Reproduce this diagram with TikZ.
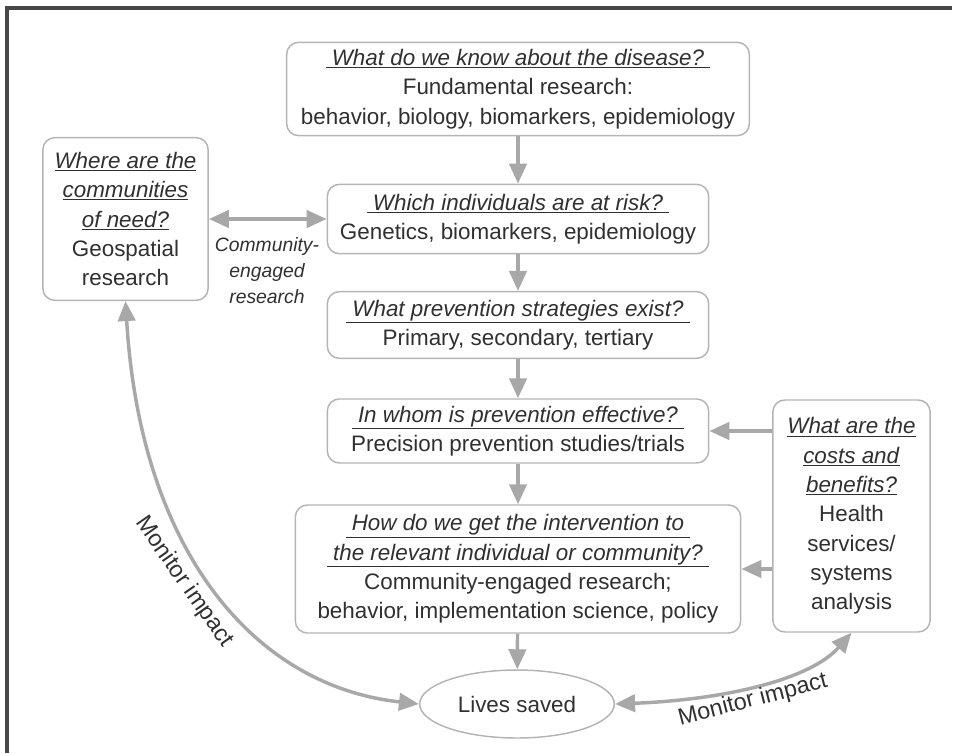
\documentclass[tikz,border=0pt]{standalone}
\usepackage{fontspec}
\setmainfont{Liberation Sans}
\usetikzlibrary{arrows.meta,shapes.geometric}
\definecolor{boxgray}{HTML}{B4B4B4}
\definecolor{arrowgray}{HTML}{A8A8A8}
\definecolor{textgray}{HTML}{303030}
\definecolor{framegray}{HTML}{474747}
\tikzset{
  qbox/.style={draw=boxgray, line width=1.1pt, rounded corners=9pt, align=center,
    text=textgray, inner sep=2pt, font=\fontsize{16.8}{22}\selectfont},
  flow/.style={draw=arrowgray, line width=2.6pt, -{Triangle[length=15pt,width=13pt]}},
  twoway/.style={flow, {Triangle[length=15pt,width=13pt]}-{Triangle[length=15pt,width=13pt]}},
  note/.style={text=textgray, align=center},
  monitor/.style={note, inner sep=1pt, font=\fontsize{17.5}{20}\selectfont},
}
\newcommand{\ask}[1]{\underline{\textit{#1}}}
\begin{document}
\begin{tikzpicture}[x=0.75pt,y=-0.75pt]
      \useasboundingbox (0,0) rectangle (955,753);
      \draw[framegray, line width=2.3pt] (7,753) -- (7,8) -- (952,8);

      \node[qbox, minimum width=347pt, minimum height=70pt] (know) at (518,89)
        {\ask{\ What do we know about the disease?\ }\\ Fundamental research:\\
         behavior, biology, biomarkers, epidemiology};
      \node[qbox, minimum width=286pt, minimum height=52pt] (risk) at (518,219)
        {\ask{\ Which individuals are at risk?\ }\\ Genetics, biomarkers, epidemiology};
      \node[qbox, minimum width=286pt, minimum height=50pt] (strategy) at (518,325)
        {\ask{\ What prevention strategies exist?\ }\\ Primary, secondary, tertiary};
      \node[qbox, minimum width=286pt, minimum height=48pt] (effect) at (518,431)
        {\ask{\ In whom is prevention effective?\ }\\ Precision prevention studies/trials};
      \node[qbox, minimum width=334pt, minimum height=96pt] (reach) at (518,569)
        {\ask{\ How do we get the intervention to\ }\\
         \ask{\ the relevant individual or community?\ }\\
         Community-engaged research;\\ behavior, implementation science, policy};
      \node[qbox, minimum width=124pt, minimum height=122pt] (where) at (125.5,219)
        {\ask{Where are the}\\ \ask{communities}\\ \ask{of need?}\\ Geospatial\\ research};
      \node[qbox, minimum width=118pt, minimum height=174pt] (costs) at (851.5,516)
        {\ask{What are the}\\ \ask{costs and}\\ \ask{benefits?}\\ Health\\ services/\\ systems\\ analysis};
      \node[ellipse, draw=boxgray, line width=1.1pt, text=textgray, minimum width=146pt,
        minimum height=51pt, font=\fontsize{16.8}{22}\selectfont] (saved) at (517,704) {Lives saved};
      \node[note, font=\fontsize{14.5}{19.5}\selectfont\itshape] (engaged) at (267,271)
        {Community-\\engaged\\research};
      \node[monitor, rotate=-55] (monleft) at (184,582) {Monitor impact};

      \draw[flow] (know) -- (risk);
      \draw[flow] (risk) -- (strategy);
      \draw[flow] (strategy) -- (effect);
      \draw[flow] (effect) -- (reach);
      \draw[flow] (reach) -- (saved);
      \draw[twoway] (where) -- (risk);
      \draw[flow] (costs.west |- effect.east) -- (effect.east);
      \draw[flow] (costs.west |- reach.east) -- (reach.east);
      \draw[twoway] (where.south) .. controls +(15,250) and +(-165,-18) .. (saved.west);
      \draw[twoway] (saved.east) .. controls +(105,-4) and +(-42,48) .. (costs.south)
        node[monitor, sloped, below, pos=0.47] (monright) {Monitor impact};
    \end{tikzpicture}
\end{document}
